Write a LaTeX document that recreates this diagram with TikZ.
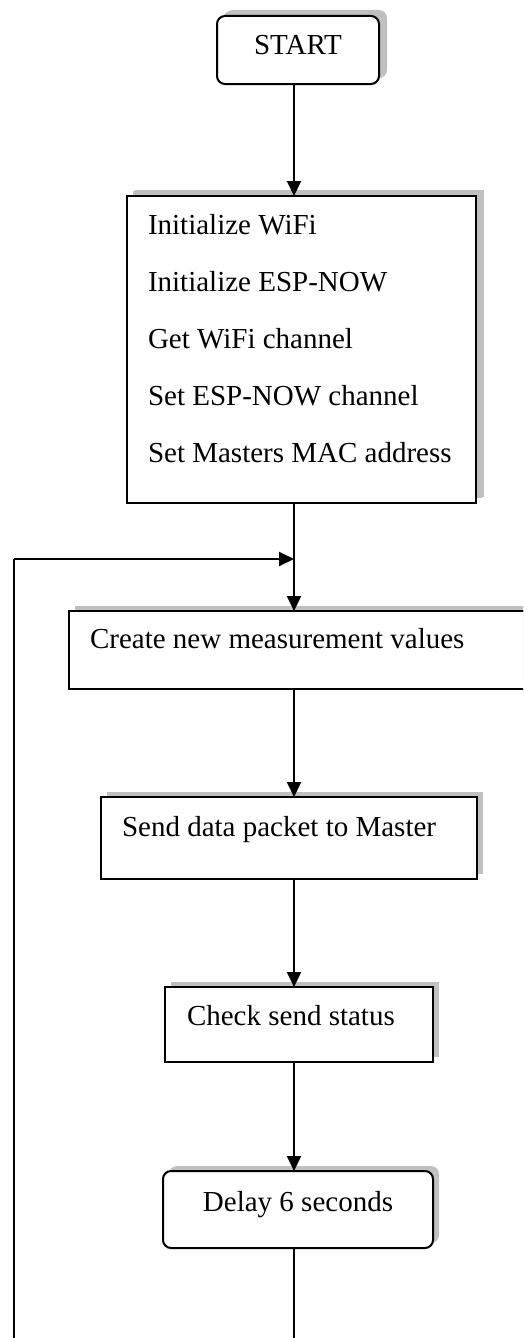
\documentclass[tikz,border=0pt]{standalone}
\usepackage{fontspec}
\setmainfont{Liberation Serif}
\usetikzlibrary{arrows.meta,shadows}
\definecolor{shadowgray}{RGB}{192,192,192}
\tikzset{
  box/.style={draw=black, line width=2pt, fill=white, inner sep=0pt, outer sep=0pt,
    anchor=north west, drop shadow={shadow xshift=6pt, shadow yshift=5pt,
    fill=shadowgray, opacity=1}},
  bigshadow/.style={drop shadow={shadow xshift=8pt, shadow yshift=6pt,
    fill=shadowgray, opacity=1}},
  roundbox/.style={box, rounded corners=8pt},
  label/.style={inner sep=0pt, outer sep=0pt, font=\fontsize{29}{35}\selectfont},
  conn/.style={line width=2pt},
  arr/.style={conn, -{Triangle[length=15pt,width=14pt]}}
}
\begin{document}
\begin{tikzpicture}[x=1pt, y=-1pt]
  \useasboundingbox (0,0) rectangle (523,1338);
  \clip (0,0) rectangle (523,1338);
  \coordinate (ax) at (294,0);

  % process boxes
  \node[roundbox, bigshadow, minimum width=162pt, minimum height=68pt] (start) at (217,16) {};
  \node[box, bigshadow, minimum width=349pt, minimum height=307pt] (init) at (127,196) {};
  \node[box, minimum width=471pt, minimum height=78pt] (create) at (69,611) {};
  \node[box, minimum width=376pt, minimum height=82pt] (send) at (101,797) {};
  \node[box, minimum width=268pt, minimum height=75pt] (check) at (165,987) {};
  \node[roundbox, minimum width=270pt, minimum height=77pt] (delay) at (163,1171) {};

  % box texts
  \node[label, anchor=base] (tstart) at (298,55) {START};
  \node[label, anchor=base west] (t1) at (148,234) {Initialize WiFi};
  \node[label, anchor=base west] (t2) at (148,291) {Initialize ESP-NOW};
  \node[label, anchor=base west] (t3) at (148,348) {Get WiFi channel};
  \node[label, anchor=base west] (t4) at (148,405) {Set ESP-NOW channel};
  \node[label, anchor=base west] (t5) at (148,462) {Set Masters MAC address};
  \node[label, anchor=base west] (tcreate) at (90,648) {Create new measurement values};
  \node[label, anchor=base west] (tsend) at (122,836) {Send data packet to Master};
  \node[label, anchor=base west] (tcheck) at (187,1025) {Check send status};
  \node[label, anchor=base] (tdelay) at (298,1211) {Delay 6 seconds};

  % main flow
  \draw[arr] (start.south -| ax) -- (init.north -| ax);
  \draw[arr] (init.south -| ax) -- (create.north -| ax);
  \draw[arr] (create.south -| ax) -- (send.north -| ax);
  \draw[arr] (send.south -| ax) -- (check.north -| ax);
  \draw[arr] (check.south -| ax) -- (delay.north -| ax);

  % loop back to the measurement step
  \coordinate (join) at (294,559);
  \coordinate (br) at (294,1350);
  \coordinate (bl) at (14,1350);
  \coordinate (tl) at (14,559);
  \draw[conn] (delay.south -| ax) -- (br) -- (bl) -- (tl);
  \draw[arr] (tl) -- (join);
\end{tikzpicture}
\end{document}
